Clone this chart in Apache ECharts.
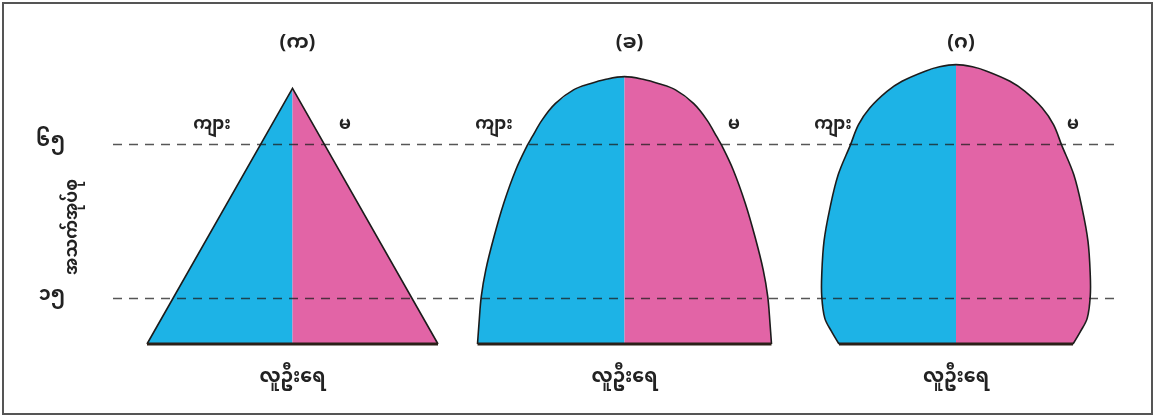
<!DOCTYPE html>
<html>
<head>
<meta charset="utf-8">
<title>Population pyramids</title>
<script src="https://cdn.jsdelivr.net/npm/echarts@6/dist/echarts.min.js"></script>
<style>
  html, body { margin: 0; padding: 0; background: #fff; }
  #chart { width: 1155px; height: 417px; }
</style>
</head>
<body>
<div id="chart"></div>
<script>
// shape titles and text
const panelTitles = ['(က)', '(ခ)', '(ဂ)']
const maleName = 'ကျား'
const femaleName = 'မ'
const popName = 'လူဦးရေ'
const ageName = 'အသက်အုပ်စု'

// age ticks (dashed reference lines)
const ageTicks = [15, 65]
const ageTickLabels = ['၁၅', '၆၅']

// half-width of each shape (population per sex) at given ages
const ages1 = [0, 83]
const pop1 = [97, 0]

const ages2 = [0, 6.7, 15.4, 24, 34.8, 45.7, 56.5, 64.3, 67.3, 72.7, 78.1, 82.5, 84.6, 85.9, 86.8]
const pop2 = [98, 97, 95.5, 92.5, 87, 80.5, 72.5, 65, 61.5, 55, 46, 34, 22.5, 13, 0]

const ages3 = [0, 4.1, 8.4, 15.5, 22.5, 33.3, 44.2, 55, 64.5, 71.2, 76.6, 82, 85.3, 88.5, 90, 90.7]
const pop3 = [78, 83, 87.5, 89.5, 89.5, 88, 84, 78.5, 70.5, 65, 57.5, 46, 36, 21, 11, 0]

const maleColor = '#1db3e6'
const femaleColor = '#e264a6'
const font = '"Noto Sans Myanmar", "Noto Sans", sans-serif'

const chart = echarts.init(document.getElementById('chart'))

const panelCenters = [292.5, 624.5, 956]
const panelSmooth = [0, 0.35, 0.35]
const grids = panelCenters.map(c => ({ left: c - 150, width: 300, top: 36, bottom: 73 }))
grids.push({ left: 113, right: 35, top: 36, bottom: 73 })

function shapeSeries(idx, ages, pop) {
  return {
    type: 'custom',
    xAxisIndex: idx,
    yAxisIndex: idx,
    z: 2,
    silent: true,
    data: ages.map((a, i) => [pop[i], a]),
    renderItem(params, api) {
      if (params.dataIndex !== 0) return null
      const left = ages.map((a, i) => api.coord([-pop[i], a]))
      const right = ages.map((a, i) => api.coord([pop[i], a]))
      const base = api.coord([0, ages[0]])
      const outline = left.concat(right.slice(0, -1).reverse())
      return {
        type: 'group',
        children: [
          { type: 'polygon', shape: { points: [base].concat(left) }, style: { fill: maleColor } },
          { type: 'polygon', shape: { points: [base].concat(right) }, style: { fill: femaleColor } },
          { type: 'polyline', shape: { points: outline, smooth: panelSmooth[idx] },
            style: { fill: null, stroke: '#1c1c1c', lineWidth: 1.6 } },
          { type: 'line', shape: { x1: left[0][0], y1: left[0][1], x2: right[0][0], y2: right[0][1] },
            style: { stroke: '#2b2018', lineWidth: 3 } }
        ]
      }
    }
  }
}

const xAxes = [0, 1, 2].map(i => ({
  gridIndex: i, type: 'value', min: -100, max: 100,
  axisLine: { show: false }, axisTick: { show: false }, axisLabel: { show: false }, splitLine: { show: false },
  name: popName, nameLocation: 'middle', nameGap: 26,
  nameTextStyle: { fontSize: 19, fontWeight: 'bold', color: '#222', fontFamily: font }
}))
xAxes.push({ gridIndex: 3, type: 'value', min: 0, max: 1, show: false })

const yAxes = [0, 1, 2].map(i => ({ gridIndex: i, type: 'value', min: 0, max: 100, show: false }))
yAxes.push({
  gridIndex: 3, type: 'value', min: 0, max: 100,
  axisLine: { show: false }, axisTick: { show: false }, splitLine: { show: false },
  axisLabel: {
    customValues: ageTicks,
    margin: 48,
    fontSize: 19, fontWeight: 'bold', color: '#222', fontFamily: font,
    formatter: v => ageTickLabels[ageTicks.indexOf(v)] || ''
  },
  name: ageName, nameLocation: 'middle', nameGap: 29, nameMoveOverlap: false,
  nameTextStyle: { fontSize: 17, fontWeight: 'bold', color: '#222', fontFamily: font, padding: [0, 74, 0, 0] }
})

// positions of the ကျား / မ tags beside each shape
const sexTagPos = [[212, 127, 345], [494, 127, 734], [833, 127, 1073]]
const tagFont = 'bold 17px ' + font

chart.setOption({
  animation: false,
  backgroundColor: '#fff',
  title: panelTitles.map((t, i) => ({
    text: t, left: panelCenters[i], top: 31, textAlign: 'center',
    textStyle: { fontSize: 20, fontWeight: 'bold', color: '#222', fontFamily: font }
  })),
  grid: grids,
  xAxis: xAxes,
  yAxis: yAxes,
  graphic: [
    { type: 'rect', shape: { x: 3, y: 3, width: 1149, height: 411 }, style: { fill: null, stroke: '#555', lineWidth: 2 }, z: 10 }
  ].concat(sexTagPos.flatMap(p => [
    { type: 'text', x: p[0], y: p[1], style: { text: maleName, align: 'center', verticalAlign: 'middle', fill: '#222', font: tagFont } },
    { type: 'text', x: p[2], y: p[1], style: { text: femaleName, align: 'center', verticalAlign: 'middle', fill: '#222', font: tagFont } }
  ])),
  series: [
    shapeSeries(0, ages1, pop1),
    shapeSeries(1, ages2, pop2),
    shapeSeries(2, ages3, pop3),
    {
      type: 'line',
      xAxisIndex: 3,
      yAxisIndex: 3,
      data: [],
      z: 5,
      markLine: {
        silent: true,
        symbol: 'none',
        label: { show: false },
        lineStyle: { color: 'rgba(30,30,30,0.75)', type: [9, 7], width: 1.3 },
        data: ageTicks.map(a => ({ yAxis: a }))
      }
    }
  ]
})
</script>
</body>
</html>
